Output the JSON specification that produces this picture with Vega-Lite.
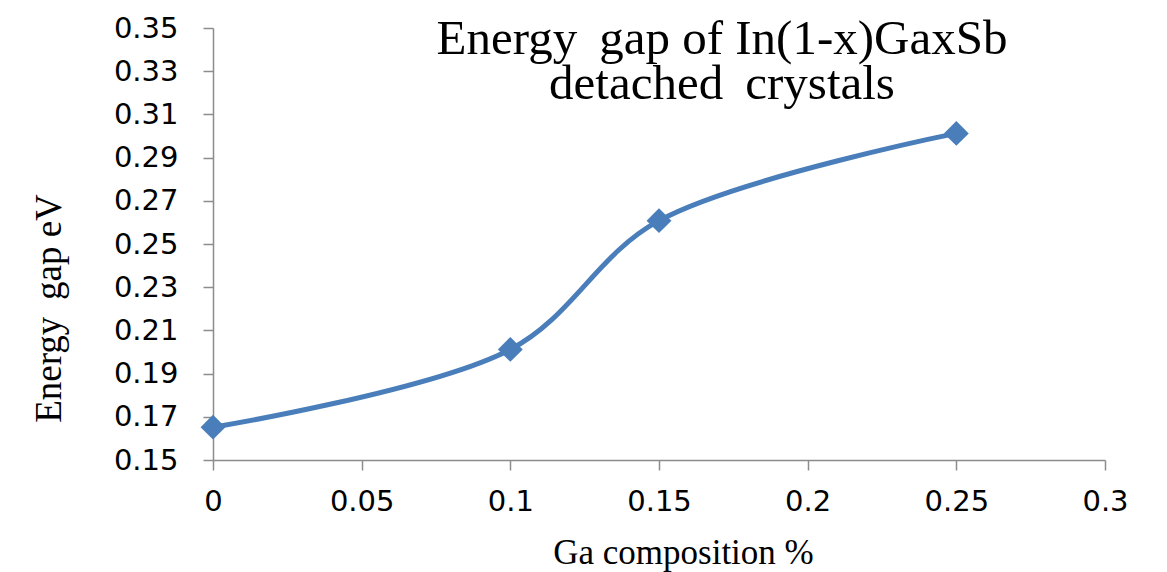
{
  "$schema": "https://vega.github.io/schema/vega-lite/v6.json",
  "width": 892,
  "height": 432,
  "autosize": {"type": "none"},
  "padding": {"left": 213, "top": 28, "right": 62, "bottom": 112},
  "background": "white",
  "config": {"view": {"stroke": null}},
  "title": {
    "text": ["Energy\u00a0\u2009gap of In(1-x)GaxSb", "detached\u00a0\u2009crystals"],
    "font": "Liberation Serif",
    "fontSize": 49,
    "fontWeight": "normal",
    "color": "black",
    "anchor": "middle",
    "frame": "group",
    "baseline": "alphabetic",
    "lineHeight": 45,
    "offset": -30,
    "dx": 63,
    "dy": 104
  },
  "data": {
    "values": [
      {"x": 0, "y": 0.1652},
      {"x": 0.1, "y": 0.2012},
      {"x": 0.15, "y": 0.2608},
      {"x": 0.25, "y": 0.3012}
    ]
  },
  "encoding": {
    "x": {
      "field": "x",
      "type": "quantitative",
      "scale": {"domain": [0, 0.3], "nice": false, "zero": false},
      "axis": {
        "values": [0, 0.05, 0.1, 0.15, 0.2, 0.25, 0.3],
        "format": "~g",
        "grid": false,
        "domainColor": "#8c8c8c",
        "domainWidth": 1.5,
        "tickColor": "#8c8c8c",
        "tickWidth": 1.5,
        "tickSize": 10,
        "labelFont": "DejaVu Sans",
        "labelFontSize": 29,
        "labelColor": "black",
        "labelPadding": 17,
        "labelFlush": false,
        "title": "Ga composition %",
        "titleFont": "Liberation Serif",
        "titleFontSize": 35,
        "titleFontWeight": "normal",
        "titleColor": "black",
        "titleBaseline": "alphabetic",
        "titleX": 470,
        "titleY": 103
      }
    },
    "y": {
      "field": "y",
      "type": "quantitative",
      "scale": {"domain": [0.15, 0.35], "nice": false, "zero": false},
      "axis": {
        "values": [0.15, 0.17, 0.19, 0.21, 0.23, 0.25, 0.27, 0.29, 0.31, 0.33, 0.35],
        "format": "~g",
        "grid": false,
        "domainColor": "#8c8c8c",
        "domainWidth": 1.5,
        "tickColor": "#8c8c8c",
        "tickWidth": 1.5,
        "tickSize": 10,
        "labelFont": "DejaVu Sans",
        "labelFontSize": 29,
        "labelColor": "black",
        "labelPadding": 25,
        "labelFlush": false,
        "title": "Energy\u00a0\u2009gap eV",
        "titleFont": "Liberation Serif",
        "titleFontSize": 37,
        "titleFontWeight": "normal",
        "titleColor": "black",
        "titleAngle": -90,
        "titleBaseline": "alphabetic",
        "titleX": -153,
        "titleY": 280
      }
    }
  },
  "layer": [
    {
      "mark": {"type": "line", "interpolate": "catmull-rom", "color": "#4A7EBB", "strokeWidth": 5}
    },
    {
      "mark": {"type": "point", "shape": "diamond", "size": 620, "filled": true, "color": "#4A7EBB", "opacity": 1}
    }
  ]
}
